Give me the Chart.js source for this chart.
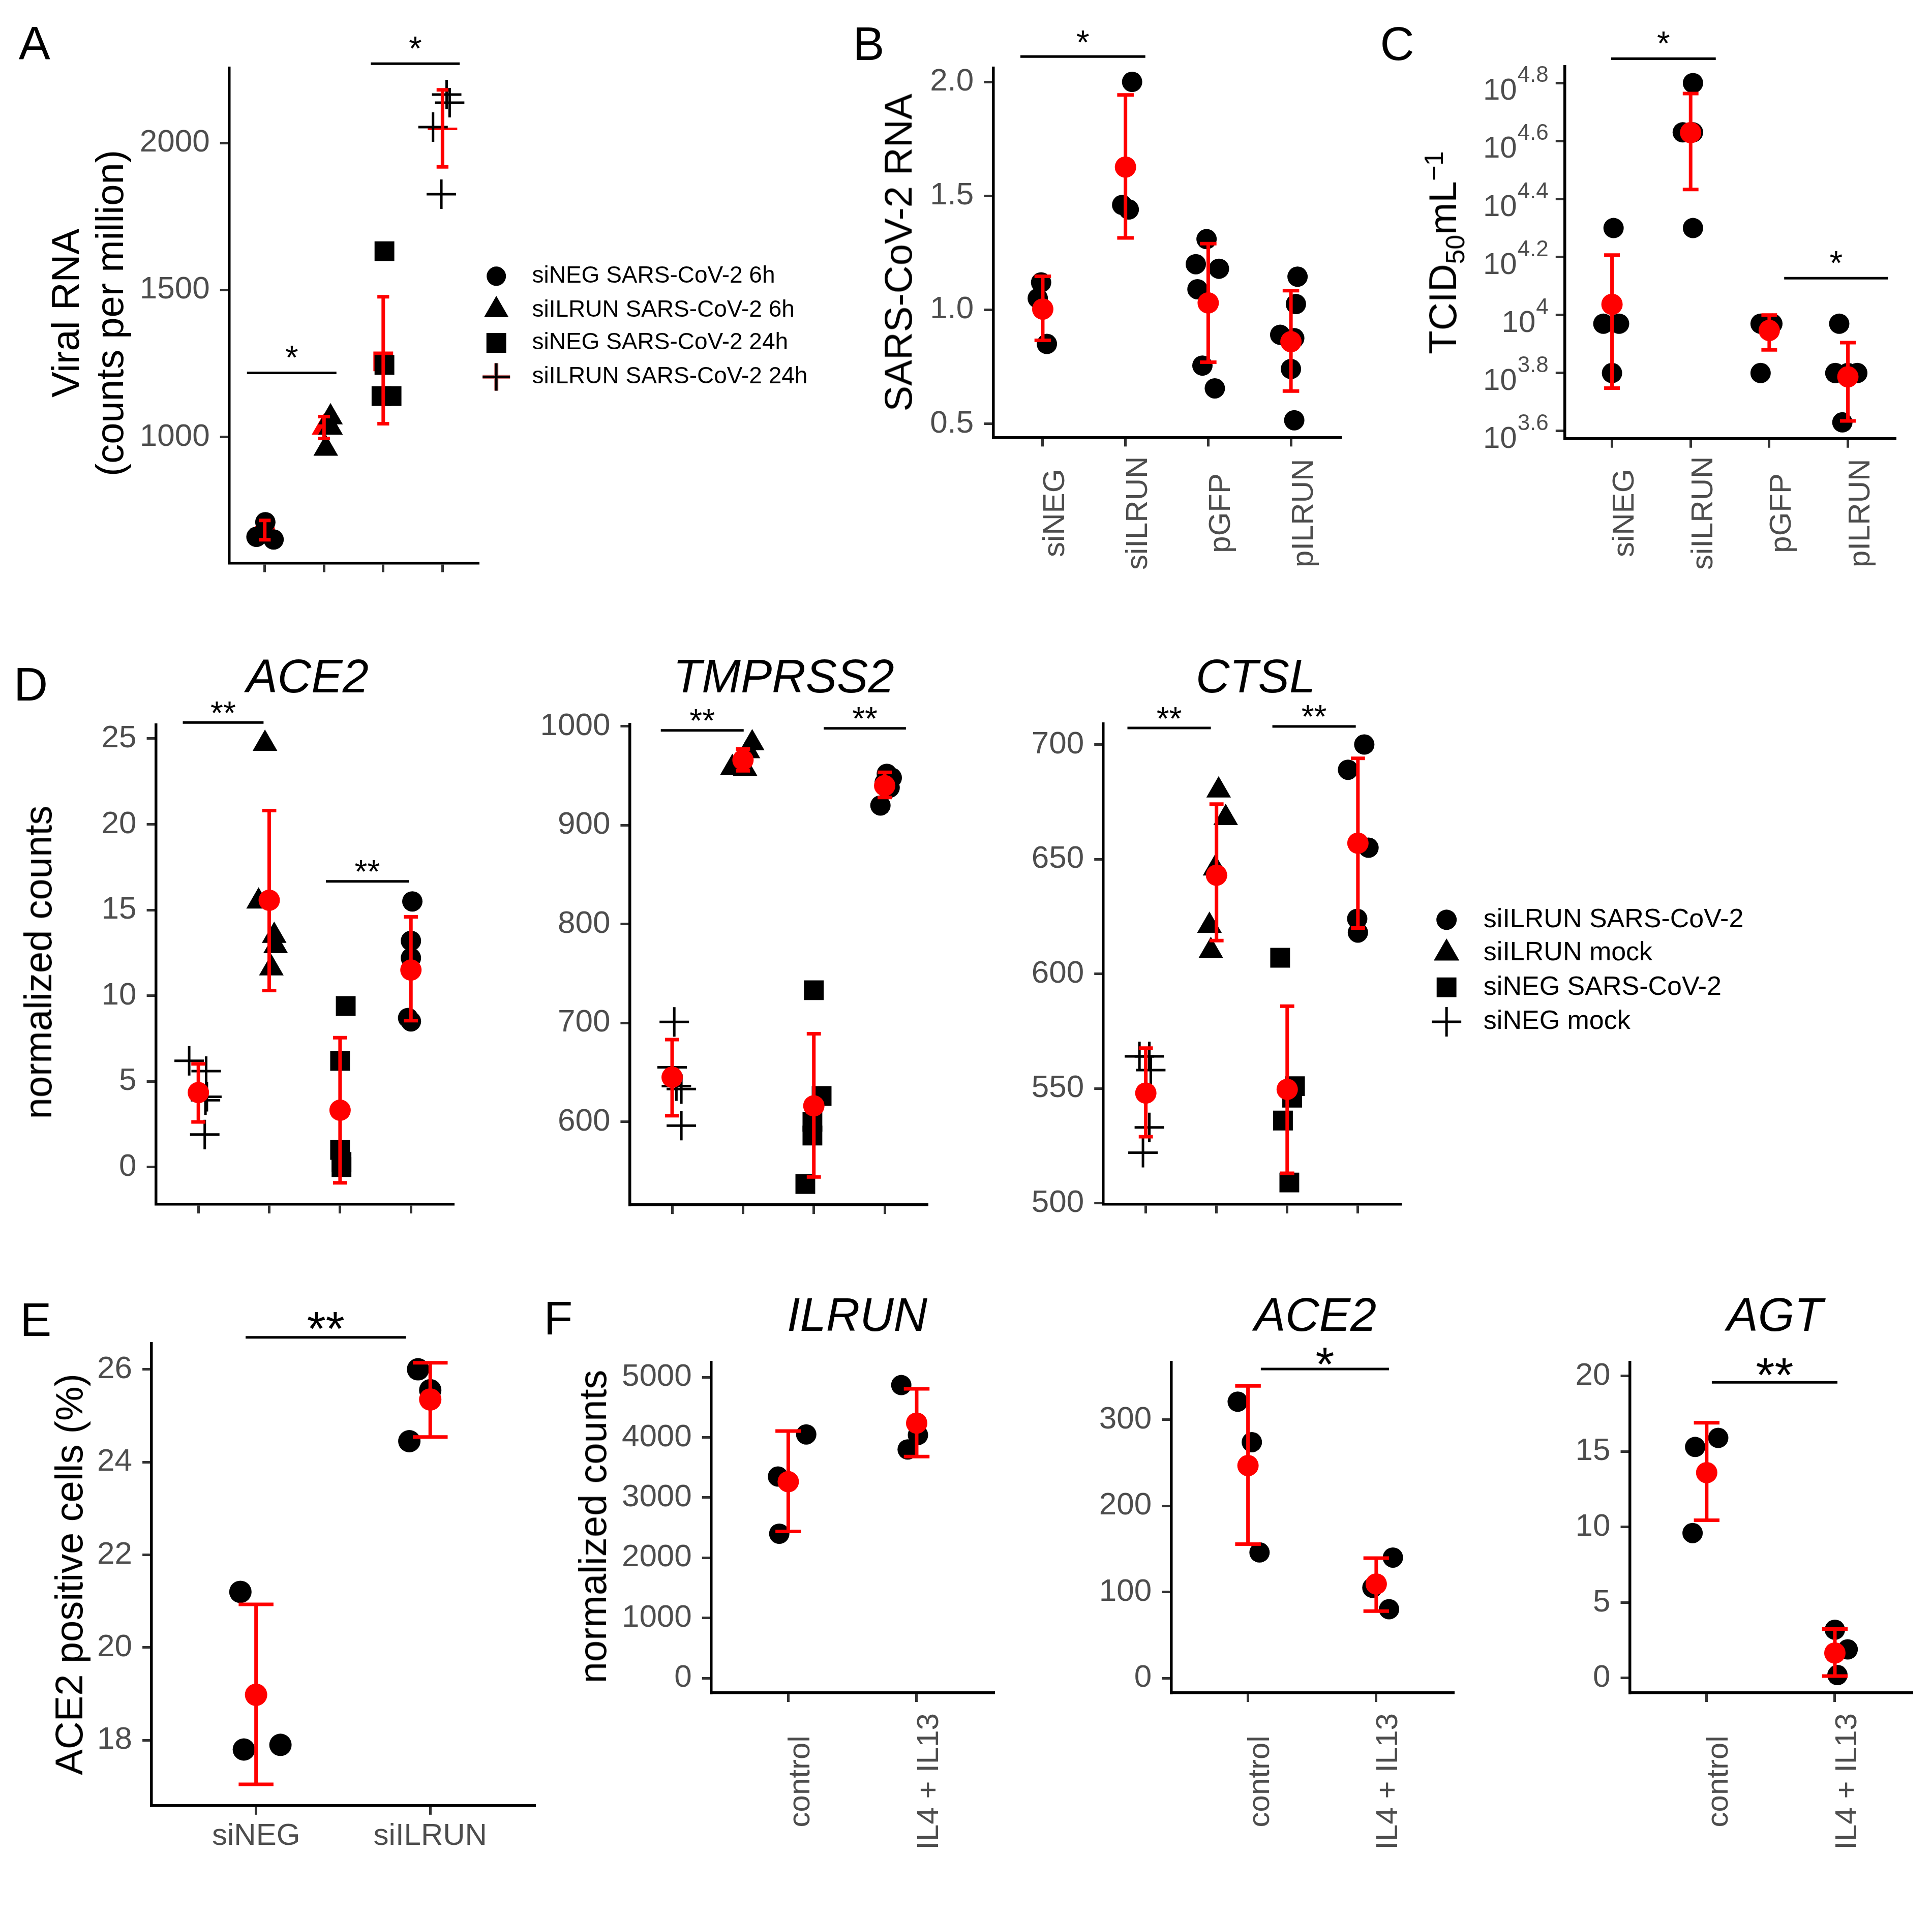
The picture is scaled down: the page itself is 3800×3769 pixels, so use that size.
<!DOCTYPE html>
<html><head><meta charset="utf-8">
<script src="https://cdn.jsdelivr.net/npm/chart.js@4.4.1/dist/chart.umd.min.js"></script>
<style>
html,body{margin:0;padding:0;background:#fff;}
body{width:3800px;height:3769px;position:relative;overflow:hidden;font-family:"Liberation Sans",Arial,Helvetica,sans-serif;}
.t{position:absolute;white-space:nowrap;color:#000;line-height:1;transform:translate(-50%,-50%);}
.t.r{transform:translate(-50%,-50%) rotate(-90deg);text-align:center;}
.t sub,.t sup{font-size:68%;line-height:0;}
</style></head><body>
<script>
const K = 3800 / 1568;
const FAM = '"Liberation Sans", Arial, Helvetica, sans-serif';

// ---------------- Panel A ----------------
const aGroups = ['siNEG SARS-CoV-2 6h','siILRUN SARS-CoV-2 6h','siNEG SARS-CoV-2 24h','siILRUN SARS-CoV-2 24h'];
const aShapes = ['circle','triangle','rect','cross'];
const aValues = [[660,710,651],[1067,1032,960],[1632,1245,1139,1139],[2165,2137,2054,1826]];
const aJitter = [[-0.14,0.01,0.15],[0.11,0.11,0.03],[0.02,0.02,-0.03,0.14],[0.07,0.12,-0.16,-0.02]];
const aMean = [683,1032,1257,2048];
const aLow = [650,995,1045,1919];
const aHigh = [716,1069,1477,2181];
const aTicks = [1000,1500,2000];
const aLimits = [571,2256];
const aSig = [[0.70,2.21,1218,'*'],[2.79,4.29,2270,'*']];

// ---------------- Panel B ----------------
const bCats = ['siNEG','siILRUN','pGFP','pILRUN'];
const bValues = [[1.12,1.05,0.85],[2.0,1.46,1.44],[1.31,1.2,1.18,1.09,0.755,0.655],[1.145,1.025,0.89,0.875,0.74,0.515]];
const bJitter = [[-0.02,-0.06,0.05],[0.08,-0.04,0.04],[-0.02,-0.15,0.13,-0.13,-0.07,0.08],[0.08,0.06,-0.13,0.04,0,0.04]];
const bMean = [1.003,1.626,1.03,0.86];
const bLow = [0.866,1.315,0.77,0.643];
const bHigh = [1.147,1.943,1.29,1.084];
const bTicks = [0.5,1.0,1.5,2.0];
const bTickLabels = ['0.5','1.0','1.5','2.0'];
const bLimits = [0.44,2.062];
const bSig = [[0.73,2.24,2.111,'*']];

// ---------------- Panel C (log10 TCID50/mL) ----------------
const cCats = ['siNEG','siILRUN','pGFP','pILRUN'];
const cLog = [[4.3,3.97,3.97,3.8],[4.8,4.63,4.63,4.3],[3.97,3.97,3.8],[3.97,3.8,3.8,3.8,3.63]];
const cJitter = [[0.02,-0.11,0.09,0],[0.03,-0.1,0.03,0.03],[-0.11,0.04,-0.11],[-0.11,-0.16,0,0.12,-0.07]];
const cMeanLog = [4.037,4.629,3.947,3.787];
const cLowLog = [3.748,4.433,3.88,3.635];
const cHighLog = [4.207,4.764,4.0,3.905];
const cTicksLog = [3.6,3.8,4.0,4.2,4.4,4.6,4.8];
const cTickExp = ['3.6','3.8','4','4.2','4.4','4.6','4.8'];
const cLimitsLog = [3.574,4.857];
const cSig = [[0.99,2.32,4.884,'*'],[3.19,4.51,4.127,'*']];

// ---------------- Panel D ----------------
const dCats = ['siNEG mock','siILRUN mock','siNEG SARS-CoV-2','siILRUN SARS-CoV-2'];
const dShapes = ['cross','triangle','rect','circle'];
const aceValues = [[6.2,5.6,4.1,3.9,1.9],[24.7,15.5,13.5,12.9,11.6],[9.4,6.2,1.0,0.3,0.0],[15.5,13.2,12.2,8.7,8.5]];
const aceJitter = [[-0.13,0.11,0.12,0.1,0.09],[-0.06,-0.15,0.07,0.09,0.03],[0.08,0,0,0.02,0.02],[0.02,0,0,-0.04,0]];
const aceMean = [4.35,15.57,3.32,11.5];
const aceLow = [2.63,10.3,-0.92,8.54];
const aceHigh = [6.02,20.8,7.55,14.6];
const aceTicks = [0,5,10,15,20,25];
const aceLimits = [-2.17,25.8];
const aceSig = [[0.78,1.92,25.94,'**'],[2.8,3.97,16.67,'**']];

const tmpValues = [[701,655,636,633,596],[983,975,963,958,957],[733,626,600,586,537],[952,948,943,938,920]];
const tmpJitter = [[0.03,0,0.06,0.13,0.13],[0.13,0.07,-0.06,-0.15,0.03],[0,0.11,-0.02,-0.02,-0.12],[0.03,0.1,0,0.07,-0.06]];
const tmpMean = [645,966,616,940];
const tmpLow = [606,955,544,928];
const tmpHigh = [683,977,689,953.5];
const tmpTicks = [600,700,800,900,1000];
const tmpLimits = [515.8,1002];
const tmpSig = [[0.84,2.01,996,'**'],[3.14,4.3,998,'**']];

const ctsValues = [[564,564,558,533,522],[680,668,646,621,610],[607,551,546,536,509],[700,689,655,624,618]];
const ctsJitter = [[-0.09,0.05,0.07,0.05,-0.04],[0.03,0.13,-0.02,-0.1,-0.08],[-0.1,0.11,0.07,-0.06,0.03],[0.09,-0.14,0.15,-0.01,0]];
const ctsMean = [548,643,549.6,657];
const ctsLow = [529,614.5,513,620];
const ctsHigh = [567.6,674,585.9,694];
const ctsTicks = [500,550,600,650,700];
const ctsLimits = [499.5,709.1];
const ctsSig = [[0.74,1.92,707.2,'**'],[2.79,3.97,707.9,'**']];
const dLegend = [['circle','siILRUN SARS-CoV-2'],['triangle','siILRUN mock'],['rect','siNEG SARS-CoV-2'],['cross','siNEG mock']];

// ---------------- Panel E ----------------
const eCats = ['siNEG','siILRUN'];
const eValues = [[21.2,17.8,17.9],[26.0,25.55,24.45]];
const eJitter = [[-0.09,-0.07,0.14],[-0.07,0,-0.12]];
const eMean = [18.98,25.35];
const eLow = [17.05,24.54];
const eHigh = [20.93,26.14];
const eTicks = [18,20,22,24,26];
const eLimits = [16.59,26.56];
const eSig = [[0.94,1.86,26.69,'**']];

// ---------------- Panel F ----------------
const fCats = ['control','IL4 + IL13'];
const ilValues = [[3350,2400,4050],[4870,3800,4040]];
const ilJitter = [[-0.08,-0.07,0.14],[-0.12,-0.07,0.01]];
const ilMean = [3265,4238];
const ilLow = [2437,3682];
const ilHigh = [4106,4808];
const ilTicks = [0,1000,2000,3000,4000,5000];
const ilLimits = [-245,5252];

const faValues = [[321,274,146],[140,105,80]];
const faJitter = [[-0.08,0.03,0.09],[0.13,-0.03,0.1]];
const faMean = [246.8,109.3];
const faLow = [155.6,77.8];
const faHigh = [339.4,139.4];
const faTicks = [0,100,200,300];
const faLimits = [-17.1,367];
const faSig = [[1.1,2.1,359,'*']];

const agtValues = [[15.9,15.3,9.6],[3.2,1.9,0.2]];
const agtJitter = [[0.09,-0.09,-0.11],[0,0.1,0.02]];
const agtMean = [13.6,1.66];
const agtLow = [10.45,0.13];
const agtHigh = [16.9,3.25];
const agtTicks = [0,5,10,15,20];
const agtLimits = [-0.98,20.92];
const agtSig = [[1.04,2.02,19.58,'**']];

// ---------------- helpers ----------------
Chart.defaults.font.family = FAM;
const ident = v => v;
const pow10 = v => Math.pow(10, v);

function drawShape(ctx, shape, x, y, r, color, underlay) {
  ctx.save(); ctx.fillStyle = color; ctx.strokeStyle = color; ctx.lineWidth = 5;
  ctx.beginPath();
  if (shape === 'circle') { ctx.arc(x, y, r, 0, 2*Math.PI); ctx.fill(); }
  else if (shape === 'triangle') {
    for (let k = 0; k < 3; k++) { const a = k*2*Math.PI/3; const px = x + Math.sin(a)*r, py = y - Math.cos(a)*r; if (k) ctx.lineTo(px, py); else ctx.moveTo(px, py); }
    ctx.closePath(); ctx.fill();
  } else if (shape === 'rect') { const s = Math.SQRT1_2*r; ctx.rect(x-s, y-s, 2*s, 2*s); ctx.fill(); }
  else if (shape === 'cross') {
    if (underlay) {
      ctx.save(); ctx.strokeStyle = underlay; ctx.lineWidth = 8;
      ctx.beginPath(); ctx.moveTo(x, y-r); ctx.lineTo(x, y+r); ctx.moveTo(x-r, y); ctx.lineTo(x+r, y); ctx.stroke();
      ctx.restore(); ctx.beginPath();
    }
    ctx.moveTo(x, y-r); ctx.lineTo(x, y+r); ctx.moveTo(x-r, y); ctx.lineTo(x+r, y); ctx.stroke();
  }
  ctx.restore();
}

function makePlugin(spec) {
  const yf = spec.yf || ident;
  function drawErr(chart) {
    const xs = chart.scales.x, ys = chart.scales.y, ctx = chart.ctx;
    ctx.save(); ctx.strokeStyle = '#ff0000'; ctx.lineWidth = 7; ctx.lineCap = 'butt';
    spec.mean.forEach((m, i) => {
      const cx = xs.getPixelForValue(i+1), x0 = xs.getPixelForValue(i+1-0.1), x1 = xs.getPixelForValue(i+1+0.1);
      const yl = ys.getPixelForValue(yf(spec.low[i])), yh = ys.getPixelForValue(yf(spec.high[i]));
      ctx.beginPath();
      ctx.moveTo(cx, yl); ctx.lineTo(cx, yh);
      ctx.moveTo(x0, yl); ctx.lineTo(x1, yl);
      ctx.moveTo(x0, yh); ctx.lineTo(x1, yh);
      ctx.stroke();
    });
    ctx.restore();
  }
  function drawSig(chart) {
    if (!spec.sig) return;
    const xs = chart.scales.x, ys = chart.scales.y, ctx = chart.ctx;
    ctx.save(); ctx.strokeStyle = '#000'; ctx.fillStyle = '#000'; ctx.lineWidth = 5;
    ctx.font = spec.sigFont + 'px ' + FAM; ctx.textAlign = 'center'; ctx.textBaseline = 'alphabetic';
    spec.sig.forEach(s => {
      const p1 = xs.getPixelForValue(s[0]), p2 = xs.getPixelForValue(s[1]), py = ys.getPixelForValue(yf(s[2]));
      ctx.beginPath(); ctx.moveTo(p1, py); ctx.lineTo(p2, py); ctx.stroke();
      ctx.fillText(s[3], (p1+p2)/2, py - spec.sigGap + 0.553*spec.sigFont);
    });
    ctx.restore();
  }
  function drawXLab(chart) {
    const xl = spec.xlab; if (!xl) return;
    const ctx = chart.ctx, xs = chart.scales.x;
    ctx.save(); ctx.fillStyle = '#4D4D4D'; ctx.font = xl.size + 'px ' + FAM; ctx.textAlign = 'center'; ctx.textBaseline = 'middle';
    spec.cats.forEach((c, i) => {
      const px = xs.getPixelForValue(i+1), py = xl.cy*K - spec.top;
      if (xl.mode === 'v') { ctx.save(); ctx.translate(px + xl.off, py); ctx.rotate(-Math.PI/2); ctx.fillText(c, 0, 0); ctx.restore(); }
      else ctx.fillText(c, px, py);
    });
    ctx.restore();
  }
  function drawYExp(chart) {
    if (!spec.yExpLabels) return;
    const ctx = chart.ctx, ys = chart.scales.y; const xr = chart.chartArea.left - 18 - 14;
    ctx.save(); ctx.fillStyle = '#4D4D4D'; ctx.textAlign = 'right'; ctx.textBaseline = 'alphabetic';
    spec.yTicks.forEach((t, i) => {
      const py = ys.getPixelForValue(yf(t)); const e = spec.yExpLabels[i];
      ctx.font = '44px ' + FAM; const we = ctx.measureText(e).width; ctx.fillText(e, xr, py - 2);
      ctx.font = '60px ' + FAM; ctx.fillText('10', xr - we - 1, py + 33);
    });
    ctx.restore();
  }
  function drawLegend(chart) {
    const lg = spec.legend; if (!lg) return;
    const ctx = chart.ctx;
    lg.items.forEach((it, i) => {
      const x = lg.sx*K - spec.left, y = lg.ys[i]*K - spec.top;
      drawShape(ctx, it[0], x, y, lg.sizes[it[0]], '#000', it[0] === 'cross' ? lg.crossUnder : null);
      ctx.save(); ctx.fillStyle = '#000'; ctx.font = lg.font + 'px ' + FAM; ctx.textAlign = 'left'; ctx.textBaseline = 'middle';
      ctx.fillText(it[1], lg.tx*K - spec.left, y); ctx.restore();
    });
  }
  return {
    id: 'custom',
    beforeDatasetDraw(chart, args) {
      if (!spec.meanShapes && chart.data.datasets[args.index].label === 'mean') drawErr(chart);
    },
    afterDatasetsDraw(chart) {
      if (spec.meanShapes) drawErr(chart);
      drawSig(chart); drawXLab(chart); drawYExp(chart); drawLegend(chart);
    }
  };
}

function makePanel(spec) {
  const L = spec.plot[0]*K, T = spec.plot[1]*K, R = spec.plot[2]*K, B = spec.plot[3]*K;
  const [pl, pt, pr, pb] = spec.pad;
  const left = Math.round(L - pl), top = Math.round(T - pt);
  const W = Math.round(R + pr) - left, H = Math.round(B + pb) - top;
  spec.left = left; spec.top = top;
  const cv = document.createElement('canvas');
  cv.width = W; cv.height = H;
  cv.style.cssText = 'position:absolute;left:' + left + 'px;top:' + top + 'px;width:' + W + 'px;height:' + H + 'px;';
  document.body.appendChild(cv);
  const areaL = L - left, areaT = T - top, areaR = R - left, areaB = B - top;
  const yf = spec.yf || ident;
  const n = spec.cats.length;
  const datasets = [];
  spec.values.forEach((vals, gi) => {
    const shape = spec.shapes ? spec.shapes[gi] : 'circle';
    datasets.push({
      type: 'scatter', label: spec.cats[gi],
      data: vals.map((v, j) => ({x: gi + 1 + spec.jitter[gi][j], y: yf(v)})),
      pointStyle: shape, pointRadius: spec.sizes[shape], pointHoverRadius: spec.sizes[shape],
      backgroundColor: '#000', borderColor: '#000', borderWidth: shape === 'cross' ? 5 : 0,
      order: 3, clip: false
    });
  });
  if (spec.meanShapes) {
    spec.mean.forEach((m, i) => {
      const shape = spec.meanShapes[i];
      datasets.push({type: 'scatter', label: 'meanshape', data: [{x: i+1, y: yf(m)}], pointStyle: shape,
        pointRadius: spec.sizes[shape], pointHoverRadius: spec.sizes[shape], backgroundColor: '#ff0000', borderColor: '#ff0000',
        borderWidth: shape === 'cross' ? 5 : 0, order: 5, clip: false});
    });
  } else {
    datasets.push({type: 'scatter', label: 'mean', data: spec.mean.map((m, i) => ({x: i+1, y: yf(m)})),
      pointStyle: 'circle', pointRadius: spec.meanR, pointHoverRadius: spec.meanR, backgroundColor: '#ff0000', borderColor: '#ff0000',
      borderWidth: 0, order: 1, clip: false});
  }
  const gridOpt = {display: true, drawOnChartArea: false, drawTicks: true, tickLength: 18, tickWidth: 5, tickColor: '#333333', color: '#333333', lineWidth: 5};
  const borderOpt = {display: true, color: '#000', width: 5.5};
  new Chart(cv, {
    type: 'scatter',
    data: {datasets},
    options: {
      responsive: false, animation: false, devicePixelRatio: 1, events: [],
      layout: {autoPadding: false, padding: {top: areaT, right: W - areaR, left: 0, bottom: 0}},
      plugins: {legend: {display: false}, tooltip: {enabled: false}},
      scales: {
        x: {type: 'linear', bounds: 'data', min: 0.4, max: n + 0.6,
          afterBuildTicks: s => { s.ticks = spec.cats.map((c, i) => ({value: i + 1})); },
          ticks: {display: false}, grid: gridOpt, border: borderOpt,
          afterFit: s => { s.height = H - areaB; }},
        y: {type: spec.ylog ? 'logarithmic' : 'linear', bounds: 'data',
          min: yf(spec.yLimits[0]), max: yf(spec.yLimits[1]),
          afterBuildTicks: s => { s.ticks = spec.yTicks.map(v => ({value: yf(v)})); },
          ticks: {display: !spec.yExpLabels, autoSkip: false, color: '#4D4D4D', padding: 20,
            font: {family: FAM, size: spec.tickFont || 62},
            callback: (v, i) => spec.yTickLabels ? spec.yTickLabels[i] : String(spec.yTicks[i])},
          grid: gridOpt, border: borderOpt,
          afterFit: s => { s.width = areaL; }}
      }
    },
    plugins: [makePlugin(spec)]
  });
}

function addText(html, xm, ym, size, opts) {
  opts = opts || {};
  const d = document.createElement('div');
  d.className = 't' + (opts.rot ? ' r' : '');
  d.innerHTML = html;
  d.style.left = (xm*K) + 'px'; d.style.top = (ym*K) + 'px'; d.style.fontSize = size + 'px';
  if (opts.it) d.style.fontStyle = 'italic';
  if (opts.lh) d.style.lineHeight = opts.lh + 'px';
  document.body.appendChild(d);
}

const dotSizes = {circle: 20, triangle: 28, rect: 27.5, cross: 29};

// Panel A
makePanel({plot: [186,55,388,457], pad: [220,130,720,60], cats: aGroups, values: aValues, jitter: aJitter,
  shapes: aShapes, sizes: dotSizes, mean: aMean, low: aLow, high: aHigh, meanShapes: aShapes,
  yLimits: aLimits, yTicks: aTicks, sig: aSig, sigFont: 66, sigGap: 44,
  legend: {items: aGroups.map((g, i) => [aShapes[i], g]), sx: 402.8, tx: 431.8, ys: [224.2,251.7,278.3,306], font: 46,
    sizes: {circle: 19, triangle: 28, rect: 27.5, cross: 27}, crossUnder: '#c87070'}});

// Panel B
makePanel({plot: [806,55,1088,355], pad: [200,130,20,290], cats: bCats, values: bValues, jitter: bJitter,
  sizes: dotSizes, meanR: 21, mean: bMean, low: bLow, high: bHigh,
  yLimits: bLimits, yTicks: bTicks, yTickLabels: bTickLabels, sig: bSig, sigFont: 66, sigGap: 42,
  xlab: {mode: 'v', cy: 416.5, size: 60, off: 26}});

// Panel C
makePanel({plot: [1270,54,1538,356], pad: [220,130,55,290], cats: cCats, values: cLog, jitter: cJitter,
  sizes: dotSizes, meanR: 21, mean: cMeanLog, low: cLowLog, high: cHighLog, ylog: true, yf: pow10,
  yLimits: cLimitsLog, yTicks: cTicksLog, yExpLabels: cTickExp, sig: cSig, sigFont: 66, sigGap: 44,
  xlab: {mode: 'v', cy: 416.5, size: 60, off: 26}});

// Panel D
makePanel({plot: [126.5,588.4,368,977.5], pad: [200,120,20,60], cats: dCats, values: aceValues, jitter: aceJitter,
  shapes: dShapes, sizes: dotSizes, meanR: 21, mean: aceMean, low: aceLow, high: aceHigh,
  yLimits: aceLimits, yTicks: aceTicks, sig: aceSig, sigFont: 64, sigGap: 32});
makePanel({plot: [511,588,752.5,978], pad: [240,120,20,60], cats: dCats, values: tmpValues, jitter: tmpJitter,
  shapes: dShapes, sizes: dotSizes, meanR: 21, mean: tmpMean, low: tmpLow, high: tmpHigh,
  yLimits: tmpLimits, yTicks: tmpTicks, sig: tmpSig, sigFont: 64, sigGap: 32});
makePanel({plot: [895.5,587.4,1136.5,977.5], pad: [240,120,760,60], cats: dCats, values: ctsValues, jitter: ctsJitter,
  shapes: dShapes, sizes: dotSizes, meanR: 21, mean: ctsMean, low: ctsLow, high: ctsHigh,
  yLimits: ctsLimits, yTicks: ctsTicks, sig: ctsSig, sigFont: 64, sigGap: 32,
  legend: {items: dLegend, sx: 1174, tx: 1204, ys: [746.6,773.7,801.4,829.4], font: 52,
    sizes: {circle: 20, triangle: 29, rect: 27.5, cross: 29}}});

// Panel E
makePanel({plot: [123,1090.4,434,1465.6], pad: [200,150,30,130], cats: eCats, values: eValues, jitter: eJitter,
  sizes: {circle: 22}, meanR: 22, mean: eMean, low: eLow, high: eHigh,
  yLimits: eLimits, yTicks: eTicks, sig: eSig, sigFont: 95, sigGap: 37,
  xlab: {mode: 'h', cy: 1490.5, size: 60}});

// Panel F
makePanel({plot: [577.2,1105.6,806.5,1374.1], pad: [240,130,20,330], cats: fCats, values: ilValues, jitter: ilJitter,
  sizes: {circle: 20}, meanR: 21, mean: ilMean, low: ilLow, high: ilHigh,
  yLimits: ilLimits, yTicks: ilTicks, xlab: {mode: 'v', cy: 1446, size: 60, off: 25}});
makePanel({plot: [950.4,1105.6,1179.4,1374.1], pad: [200,130,20,330], cats: fCats, values: faValues, jitter: faJitter,
  sizes: {circle: 20}, meanR: 21, mean: faMean, low: faLow, high: faHigh,
  yLimits: faLimits, yTicks: faTicks, sig: faSig, sigFont: 95, sigGap: 29,
  xlab: {mode: 'v', cy: 1446, size: 60, off: 25}});
makePanel({plot: [1322.7,1105.6,1551.6,1374.1], pad: [200,130,30,330], cats: fCats, values: agtValues, jitter: agtJitter,
  sizes: {circle: 20}, meanR: 21, mean: agtMean, low: agtLow, high: agtHigh,
  yLimits: agtLimits, yTicks: agtTicks, sig: agtSig, sigFont: 95, sigGap: 35,
  xlab: {mode: 'v', cy: 1446, size: 60, off: 25}});

// Text: panel letters, axis titles, gene titles
addText('A', 28, 35, 93);
addText('B', 705, 35.5, 93);
addText('C', 1134, 35.5, 93);
addText('D', 25, 555.6, 93);
addText('E', 29, 1071, 93);
addText('F', 453, 1070, 93);
addText('Viral RNA<br>(counts per million)', 71, 254, 76, {rot: true, lh: 87});
addText('SARS-CoV-2 RNA', 729, 205, 76, {rot: true});
addText('TCID<sub>50</sub>mL<sup>\u22121</sup>', 1171, 205, 76, {rot: true});
addText('normalized counts', 31, 781, 76, {rot: true});
addText('ACE2', 249.5, 549, 92, {it: true});
addText('TMPRSS2', 636, 549, 92, {it: true});
addText('CTSL', 1019, 549, 92, {it: true});
addText('ACE2 positive cells (%)', 56, 1278, 76, {rot: true});
addText('normalized counts', 481, 1239, 76, {rot: true});
addText('ILRUN', 695.7, 1067, 92, {it: true});
addText('ACE2', 1067.5, 1067, 92, {it: true});
addText('AGT', 1440.5, 1067, 92, {it: true});
</script>
</body></html>
